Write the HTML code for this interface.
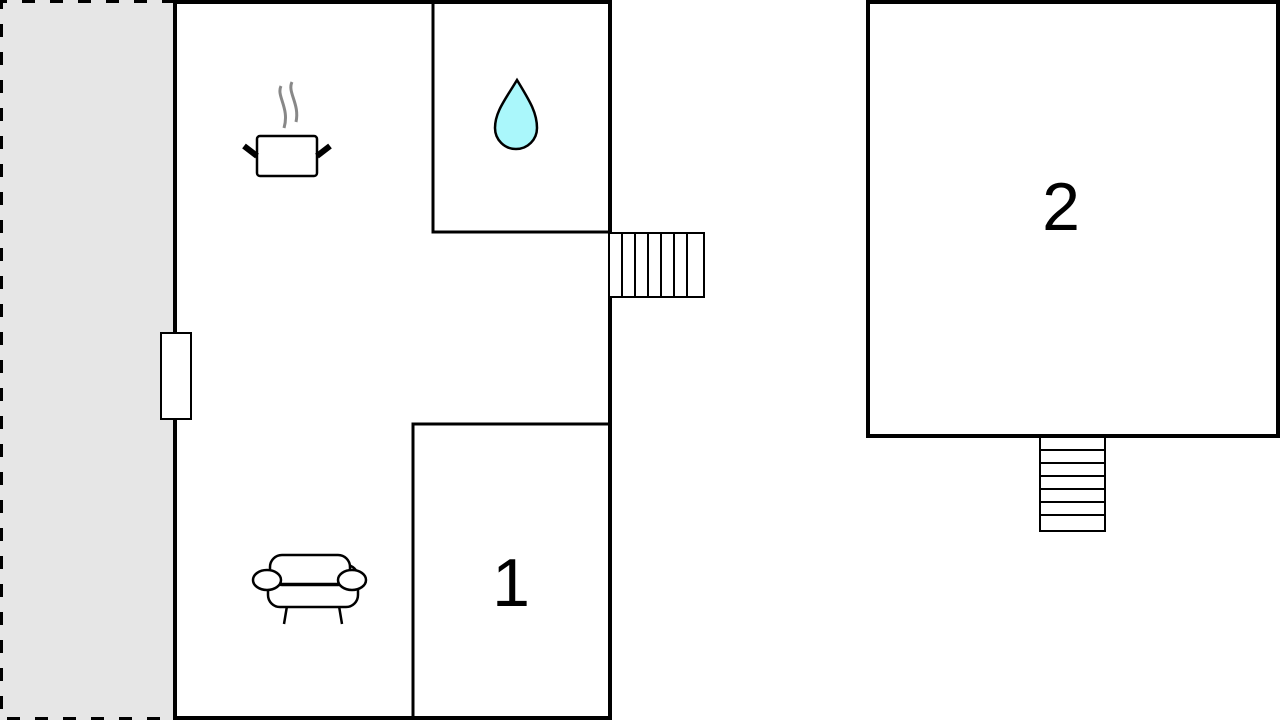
<!DOCTYPE html>
<html><head><style>body{margin:0;background:#fff}svg{display:block}</style></head><body>
<svg width="1280" height="720" viewBox="0 0 1280 720" xmlns="http://www.w3.org/2000/svg">
<rect x="0" y="0" width="175" height="720" fill="#e6e6e6"/>
<path d="M175 1.5H1.5V718.5H175" fill="none" stroke="#000" stroke-width="3" stroke-dasharray="13,15"/>
<rect x="175" y="2" width="435" height="716" fill="#fff" stroke="#000" stroke-width="4"/>
<rect x="433" y="2" width="177" height="230" fill="none" stroke="#000" stroke-width="3"/>
<rect x="413" y="424" width="197" height="294" fill="none" stroke="#000" stroke-width="3"/>
<rect x="161" y="333" width="30" height="86" fill="#fff" stroke="#000" stroke-width="2"/>
<g stroke="#000" stroke-width="2" fill="#fff">
<rect x="609" y="233" width="95" height="64"/>
<path d="M622 233v64M635 233v64M648 233v64M661 233v64M674 233v64M687 233v64"/>
</g>
<rect x="868" y="2" width="410" height="434" fill="#fff" stroke="#000" stroke-width="4"/>
<g stroke="#000" stroke-width="2" fill="#fff">
<rect x="1040" y="437" width="65" height="94"/>
<path d="M1040 450h65M1040 463h65M1040 476h65M1040 489h65M1040 502h65M1040 515h65"/>
</g>
<text x="511" y="606" font-family="Liberation Sans, sans-serif" font-size="68" text-anchor="middle">1</text>
<text x="1061" y="230" font-family="Liberation Sans, sans-serif" font-size="68" text-anchor="middle">2</text>
<path d="M517 80 C505 100 495 112 495 128 A21 21 0 0 0 537 128 C537 112 529 100 517 80Z" fill="#aaf7fb" stroke="#000" stroke-width="2.5"/>
<g fill="none" stroke="#888" stroke-width="3">
<path d="M281 86 C276 96 290 108 284 128"/><path d="M292 82 C287 92 300 104 296 122"/>
</g>
<rect x="257" y="136" width="60" height="40" rx="3" fill="#fff" stroke="#000" stroke-width="2.5"/>
<path d="M244 146 L257 156 M330 146 L317 156" stroke="#000" stroke-width="6"/>
<g fill="#fff" stroke="#000" stroke-width="2.5">
<path d="M284 624 L287 606 M342 624 L339 606"/>
<rect x="268" y="565" width="90" height="42" rx="12"/>
<rect x="270" y="555" width="80" height="30" rx="12"/>
<ellipse cx="267" cy="580" rx="14" ry="10"/>
<ellipse cx="352" cy="580" rx="14" ry="10"/>
<path d="M281 584h58"/>
</g>
</svg>
</body></html>
